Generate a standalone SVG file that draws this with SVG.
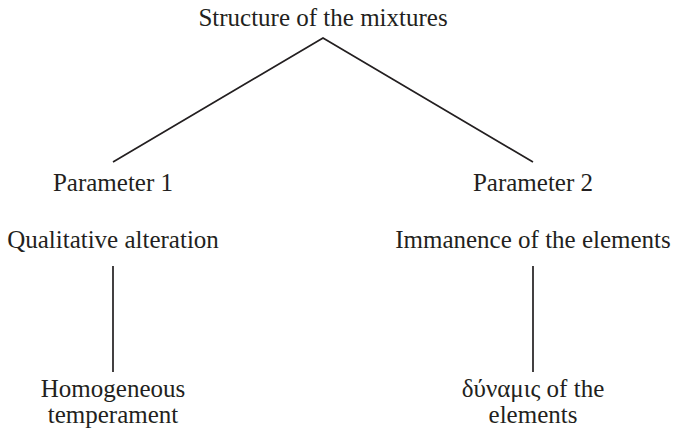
<svg xmlns="http://www.w3.org/2000/svg" width="674" height="431" viewBox="0 0 674 431">
<style>
.t{font-family:"Liberation Serif","Times New Roman",serif;font-size:25px;fill:#231f20;text-anchor:middle}
.c{stroke:#231f20;stroke-width:1.7;fill:none}
</style>
<rect width="674" height="431" fill="#ffffff"/>
<g id="connectors">
<polyline class="c" points="113,162 323,38 533,162"/>
<line class="c" x1="113" y1="266" x2="113" y2="372"/>
<line class="c" x1="533" y1="266" x2="533" y2="372"/>
</g>
<g id="root"><text class="t" x="323" y="26">Structure of the mixtures</text></g>
<g id="param1"><text class="t" x="113" y="191">Parameter 1</text></g>
<g id="param2"><text class="t" x="533" y="191">Parameter 2</text></g>
<g id="qual"><text class="t" x="113" y="248">Qualitative alteration</text></g>
<g id="imm"><text class="t" x="533" y="248">Immanence of the elements</text></g>
<g id="homo"><text class="t" x="113" y="397">Homogeneous</text><text class="t" x="113" y="423">temperament</text></g>
<g id="dyn"><text class="t" x="533" y="397">δύναμις of the</text><text class="t" x="533" y="423">elements</text></g>
</svg>
